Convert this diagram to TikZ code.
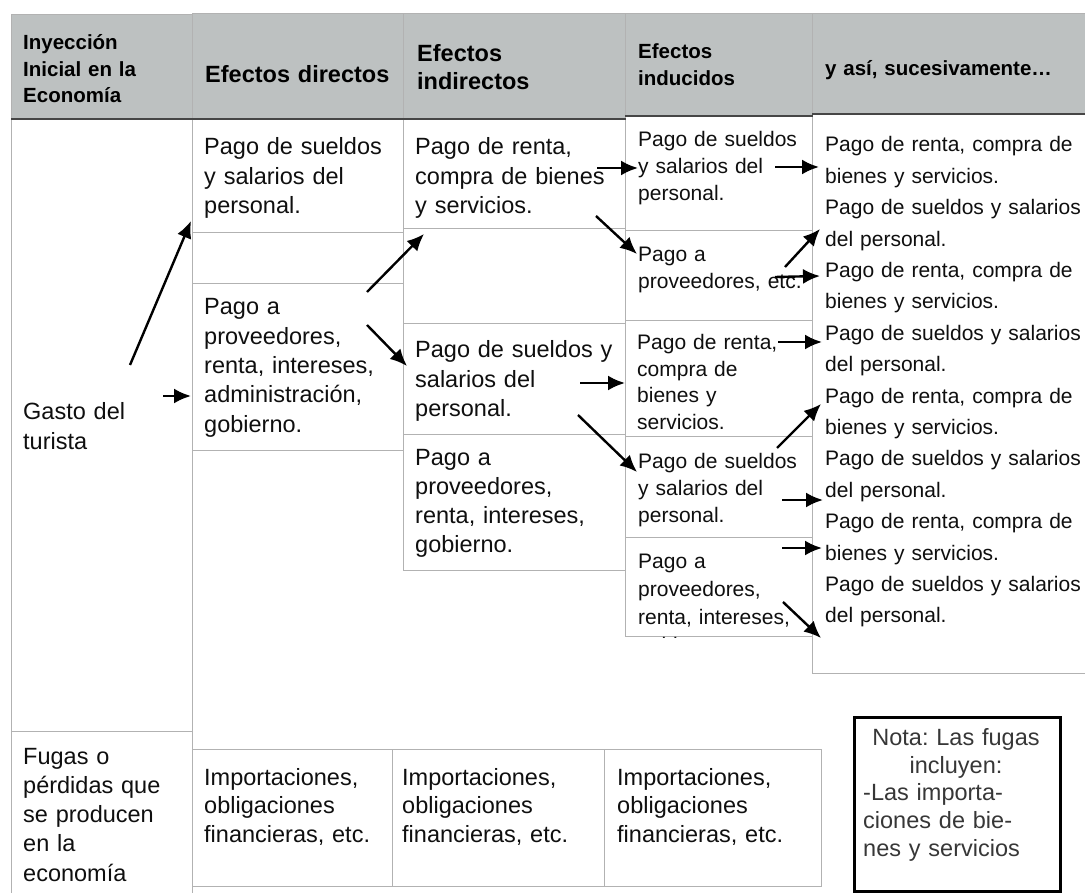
\documentclass[tikz,border=0pt]{standalone}
\usepackage{fontspec}
\setmainfont{Liberation Sans}
\usetikzlibrary{arrows.meta}
\definecolor{hdrgray}{RGB}{189,193,193}
\definecolor{gridgray}{RGB}{178,178,178}
\definecolor{hdrline}{RGB}{70,70,70}
\definecolor{txtblack}{RGB}{15,15,15}
\definecolor{notegray}{RGB}{55,55,55}
\tikzset{
  cellbox/.style={draw=gridgray, line width=1.2pt, inner sep=0pt, anchor=north west},
  hdrbox/.style={cellbox, fill=hdrgray},
  hdrrule/.style={draw=hdrline, line width=2pt},
  notebox/.style={draw=black, line width=2.5pt, inner sep=0pt, anchor=north west},
  txt/.style={anchor=base west, inner sep=0pt, text width=320pt, align=left, text=txtblack,
              font=\frenchspacing\fontsize{23.5}{29.3}\selectfont},
  txtsm/.style={txt, font=\frenchspacing\fontsize{21}{27}\selectfont},
  txtcol/.style={txt, font=\frenchspacing\fontsize{21}{31.4}\selectfont},
  hdrbig/.style={txt, text=black, font=\frenchspacing\bfseries\fontsize{23.5}{28}\selectfont},
  hdrsm/.style={txt, text=black, font=\frenchspacing\bfseries\fontsize{20.5}{26.5}\selectfont},
  notetxt/.style={inner sep=0pt, text width=200pt, text=notegray, font=\frenchspacing\fontsize{23.5}{28}\selectfont},
  arr/.style={-{Latex[length=17pt,width=15pt]}, line width=2.4pt, draw=black}
}
\begin{document}
\frenchspacing
\begin{tikzpicture}[x=1pt,y=-1pt]
\useasboundingbox[fill=white] (0,0) rectangle (1085,893);
% body cells
\node[cellbox, minimum width=181, minimum height=613] (c1a) at (11,118) {};
\node[cellbox, minimum width=181, minimum height=170] (c1b) at (11,731) {};
\node[cellbox, minimum width=211, minimum height=114] (c21) at (192,118) {};
\node[cellbox, minimum width=211, minimum height=51]  (c22) at (192,232) {};
\node[cellbox, minimum width=211, minimum height=167] (c23) at (192,283) {};
\node[cellbox, minimum width=222, minimum height=110] (c31) at (403,118) {};
\node[cellbox, minimum width=222, minimum height=95]  (c32) at (403,228) {};
\node[cellbox, minimum width=222, minimum height=111] (c33) at (403,323) {};
\node[cellbox, minimum width=222, minimum height=136] (c34) at (403,434) {};
\node[cellbox, minimum width=187, minimum height=115] (c41) at (625,115) {};
\node[cellbox, minimum width=187, minimum height=90]  (c42) at (625,230) {};
\node[cellbox, minimum width=187, minimum height=116] (c43) at (625,320) {};
\node[cellbox, minimum width=187, minimum height=101] (c44) at (625,436) {};
\node[cellbox, minimum width=187, minimum height=99]  (c45) at (625,537) {};
\node[cellbox, minimum width=280, minimum height=560] (c5) at (812,113) {};
\node[cellbox, minimum width=200, minimum height=137] (b1) at (192,749) {};
\node[cellbox, minimum width=212, minimum height=137] (b2) at (392,749) {};
\node[cellbox, minimum width=217, minimum height=137] (b3) at (604,749) {};
% header cells
\node[hdrbox, minimum width=181, minimum height=104] (h1) at (11,14) {};
\node[hdrbox, minimum width=211, minimum height=105] (h2) at (192,13) {};
\node[hdrbox, minimum width=222, minimum height=105] (h3) at (403,13) {};
\node[hdrbox, minimum width=187, minimum height=102] (h4) at (625,13) {};
\node[hdrbox, minimum width=280, minimum height=100] (h5) at (812,13) {};
\draw[hdrrule] (h1.south west) -- (h3.south east);
\draw[hdrrule] (h4.south west) -- (h4.south east);
\draw[hdrrule] (h5.south west) -- (h5.south east);
% header texts
\node[hdrsm]  (hd1) at (23,50)  {Inyección\\Inicial en la\\Economía};
\node[hdrbig] (hd2) at (205,83) {Efectos directos};
\node[hdrbig] (hd3) at (417,62) {Efectos\\indirectos};
\node[hdrsm]  (hd4) at (638,59) {Efectos\\inducidos};
\node[hdrsm]  (hd5) at (825,76) {y así, sucesivamente…};
% body texts
\node[txt] (g1)  at (23,420)  {Gasto del\\turista};
\node[txt] (f1)  at (23,764)  {Fugas o\\pérdidas que\\se producen\\en la\\economía};
\node[txt] (t21) at (204,155) {Pago de sueldos\\y salarios del\\personal.};
\node[txt] (t23) at (204,315) {Pago a\\proveedores,\\renta, intereses,\\administración,\\gobierno.};
\node[txt] (t31) at (415,155) {Pago de renta,\\compra de bienes\\y servicios.};
\node[txt] (t33) at (415,358) {Pago de sueldos y\\salarios del\\personal.};
\node[txt] (t34) at (415,465) {Pago a\\proveedores,\\renta, intereses,\\gobierno.};
\node[txtsm] (t41) at (638,147) {Pago de sueldos\\y salarios del\\personal.};
\node[txtsm] (t42) at (638,262) {Pago a\\proveedores, etc.};
\node[txtsm, font=\frenchspacing\fontsize{21}{26.5}\selectfont] (t43) at (637,350) {Pago de renta,\\compra de\\bienes y\\servicios.};
\node[txtsm] (t44) at (638,468) {Pago de sueldos\\y salarios del\\personal.};
\begin{scope}
\clip (625,537) rectangle (812,637);
\node[txtsm, font=\frenchspacing\fontsize{21}{28}\selectfont] (t45) at (638,568) {Pago a\\proveedores,\\renta, intereses,\\gobierno.};
\end{scope}
\node[txtcol] (t5) at (825,152) {Pago de renta, compra de\\bienes y servicios.\\Pago de sueldos y salarios\\del personal.\\Pago de renta, compra de\\bienes y servicios.\\Pago de sueldos y salarios\\del personal.\\Pago de renta, compra de\\bienes y servicios.\\Pago de sueldos y salarios\\del personal.\\Pago de renta, compra de\\bienes y servicios.\\Pago de sueldos y salarios\\del personal.};
\node[txt, font=\frenchspacing\fontsize{23.5}{28.5}\selectfont] (tb1) at (204,785) {Importaciones,\\obligaciones\\financieras, etc.};
\node[txt, font=\frenchspacing\fontsize{23.5}{28.5}\selectfont] (tb2) at (402,785) {Importaciones,\\obligaciones\\financieras, etc.};
\node[txt, font=\frenchspacing\fontsize{23.5}{28.5}\selectfont] (tb3) at (617,785) {Importaciones,\\obligaciones\\financieras, etc.};
% note
\node[notebox, minimum width=206, minimum height=174] (note) at (853,716) {};
\node[notetxt, anchor=base, align=center] (n1) at (956,745) {Nota: Las fugas\\incluyen:};
\node[notetxt, anchor=base west, align=left] (n2) at (863,800) {-Las importa-\\ciones de bie-\\nes y servicios};
% arrow end points
\coordinate (a1s) at (130,365);  \coordinate (a1e) at (191,221);
\coordinate (a2s) at (163,396);  \coordinate (a2e) at (191,396);
\coordinate (a3s) at (367,292);  \coordinate (a3e) at (424,234);
\coordinate (a4s) at (367,325);  \coordinate (a4e) at (407,366);
\coordinate (a5s) at (597,168);  \coordinate (a5e) at (638,168);
\coordinate (a6s) at (596,216);  \coordinate (a6e) at (637,254);
\coordinate (a7s) at (775,167);  \coordinate (a7e) at (819,167);
\coordinate (a8s) at (785,267);  \coordinate (a8e) at (820,229);
\coordinate (a9s) at (775,277);  \coordinate (a9e) at (820,276);
\coordinate (a10s) at (580,383); \coordinate (a10e) at (625,383);
\coordinate (a11s) at (578,415); \coordinate (a11e) at (637,472);
\coordinate (a12s) at (778,342); \coordinate (a12e) at (822,342);
\coordinate (a13s) at (777,448); \coordinate (a13e) at (821,404);
\coordinate (a14s) at (782,500); \coordinate (a14e) at (823,500);
\coordinate (a15s) at (782,548); \coordinate (a15e) at (822,548);
\coordinate (a16s) at (783,602); \coordinate (a16e) at (821,638);
\foreach \i in {1,...,16} {\draw[arr] (a\i s) -- (a\i e);}
\end{tikzpicture}
\end{document}
